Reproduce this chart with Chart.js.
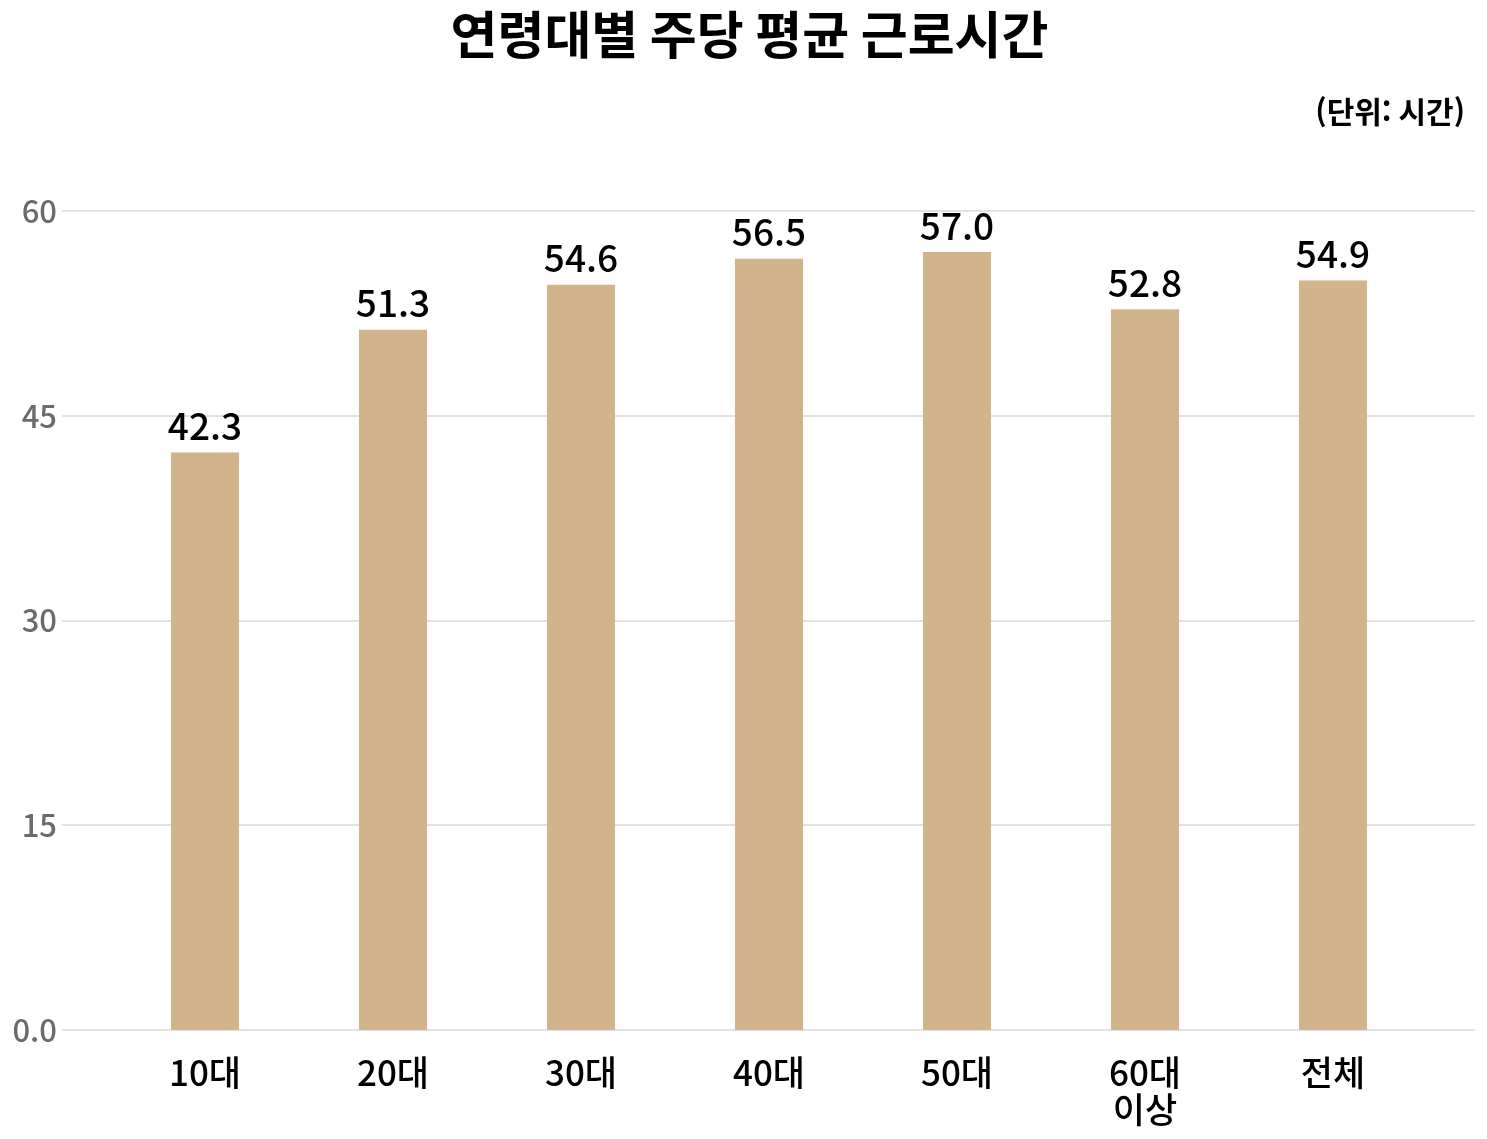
<!DOCTYPE html>
<html lang="ko">
<head>
<meta charset="utf-8">
<script src="https://cdn.jsdelivr.net/npm/chart.js@4"></script>
<style>
  html, body { margin: 0; padding: 0; background: #fff; }
  #wrap { width: 1487px; height: 1139px; position: relative; }
</style>
</head>
<body>
<div id="wrap"><canvas id="hoursChart"></canvas></div>
<script>
const ageGroups = ['10대', '20대', '30대', '40대', '50대', ['60대', '이상'], '전체'];
const weeklyHours = [42.3, 51.3, 54.6, 56.5, 57.0, 52.8, 54.9];
const yTicks = [0, 15, 30, 45, 60];
const chartTitle = '연령대별 주당 평균 근로시간';
const unitText = '(단위: 시간)';

const FONT = "'Noto Sans CJK KR', 'Noto Sans', sans-serif";

// grid lines run a bit past the category area on both sides
const gridPlugin = {
    id: 'wideGrid',
    beforeDatasetsDraw(chart) {
        const { ctx, chartArea, scales } = chart;
        ctx.save();
        ctx.strokeStyle = '#e2e2e2';
        ctx.lineWidth = 2;
        yTicks.forEach(v => {
            const y = Math.round(scales.y.getPixelForValue(v));
            ctx.beginPath();
            ctx.moveTo(chartArea.left - 49, y);
            ctx.lineTo(chartArea.right + 48, y);
            ctx.stroke();
        });
        ctx.restore();
    }
};

const labelPlugin = {
    id: 'barValues',
    afterDatasetsDraw(chart) {
        const { ctx } = chart;
        const meta = chart.getDatasetMeta(0);
        ctx.save();
        ctx.font = `500 37px ${FONT}`;
        ctx.fillStyle = '#000';
        ctx.textAlign = 'center';
        ctx.textBaseline = 'bottom';
        meta.data.forEach((bar, i) => {
            ctx.fillText(weeklyHours[i].toFixed(1), bar.x, bar.y - 8);
        });
        ctx.restore();
    }
};

const headerPlugin = {
    id: 'header',
    afterDraw(chart) {
        const { ctx, width } = chart;
        ctx.save();
        ctx.fillStyle = '#000';
        ctx.textBaseline = 'middle';
        ctx.textAlign = 'center';
        ctx.font = `bold 51px ${FONT}`;
        ctx.fillText(chartTitle, width / 2 + 6, 35);
        ctx.textAlign = 'right';
        ctx.font = `bold 30px ${FONT}`;
        ctx.fillText(unitText, width - 22, 112);
        ctx.restore();
    }
};

new Chart(document.getElementById('hoursChart'), {
    type: 'bar',
    data: {
        labels: ageGroups,
        datasets: [{
            data: weeklyHours,
            backgroundColor: '#d2b48c',
            categoryPercentage: 0.362,
            barPercentage: 1.0
        }]
    },
    options: {
        responsive: true,
        maintainAspectRatio: false,
        animation: false,
        layout: {
            padding: { top: 211, right: 60, bottom: 0, left: 0 }
        },
        scales: {
            y: {
                min: 0,
                max: 60,
                afterBuildTicks(axis) {
                    axis.ticks = yTicks.map(v => ({ value: v }));
                },
                afterFit(axis) { axis.width = 111; },
                grid: { display: false, drawTicks: false },
                border: { display: false },
                ticks: {
                    color: '#6b6b6b',
                    padding: 54,
                    font: { family: FONT, size: 31, weight: 500 },
                    callback: v => (v === 0 ? '0.0' : v)
                }
            },
            x: {
                afterFit(axis) { axis.height = 109; },
                grid: { display: false, drawTicks: false },
                border: { display: false },
                ticks: {
                    color: '#000',
                    padding: 25,
                    font: { family: FONT, size: 35, weight: 500, lineHeight: 1.04 }
                }
            }
        },
        plugins: {
            legend: { display: false },
            tooltip: { enabled: false }
        }
    },
    plugins: [gridPlugin, labelPlugin, headerPlugin]
});
</script>
</body>
</html>
